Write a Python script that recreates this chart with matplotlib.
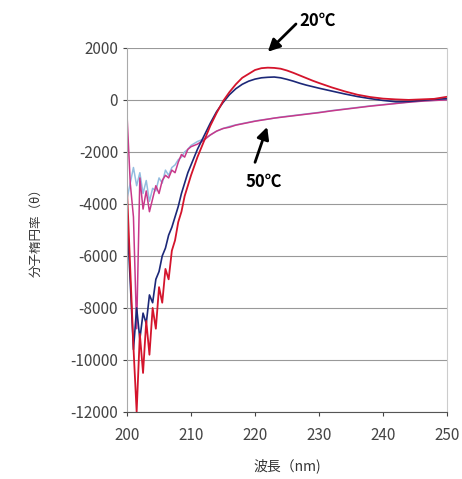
import matplotlib
matplotlib.use('Agg')
import matplotlib.pyplot as plt

plt.rcParams['font.family'] = ['Noto Sans CJK JP', 'DejaVu Sans']

# --- DATA ---
wl = [200, 200.5, 201, 201.5, 202, 202.5, 203, 203.5, 204, 204.5,
      205, 205.5, 206, 206.5, 207, 207.5, 208, 208.5, 209, 209.5, 210,
      211, 212, 213, 214, 215, 216, 217, 218, 219, 220,
      221, 222, 223, 224, 225, 226, 227, 228, 229, 230,
      232, 234, 236, 238, 240, 242, 244, 246, 248, 250]

red_20 = [-3500, -6500, -9500, -12000, -9000, -10500, -8500, -9800, -8000, -8800,
          -7200, -7800, -6500, -6900, -5800, -5400, -4700, -4300, -3700, -3300, -2900,
          -2200, -1600, -1000, -500, -50, 300, 600, 850, 1000, 1150,
          1220, 1240, 1230, 1200, 1130, 1040, 940, 840, 740, 650,
          480, 330, 200, 110, 50, 20, 0, 20, 40, 120]

navy_20 = [-4500, -7000, -9600, -8000, -9200, -8200, -8600, -7500, -7800, -6900,
           -6600, -6000, -5700, -5200, -4900, -4500, -4100, -3600, -3200, -2800, -2500,
           -1900, -1400, -900, -450, -100, 200, 430, 600, 720, 800,
           850, 870, 880, 850, 790, 720, 640, 570, 510, 450,
           340, 230, 130, 50, -20, -70, -60, -20, 20, 50]

magenta_50 = [-600, -3200, -4500, -8800, -3000, -4200, -3500, -4300, -3800, -3300,
              -3600, -3100, -2900, -3000, -2700, -2800, -2400, -2100, -2200, -1900, -1800,
              -1700, -1550, -1350, -1200, -1100, -1050, -970, -920, -870, -820,
              -780, -740, -700, -670, -640, -610, -580, -550, -520, -490,
              -420, -360, -300, -240, -190, -140, -90, -50, -20, 0]

blue_50 = [-3800, -3200, -2600, -3300, -2800, -3600, -3100, -3900, -3400, -3500,
           -3000, -3200, -2700, -2900, -2600, -2500, -2300, -2200, -2000, -1900, -1750,
           -1600, -1500, -1350, -1200, -1100, -1020, -960, -910, -860, -810,
           -770, -740, -700, -660, -630, -600, -570, -540, -510, -480,
           -410, -350, -290, -230, -180, -130, -80, -40, -20, 0]

xticks = [200, 210, 220, 230, 240, 250]
yticks = [2000, 0, -2000, -4000, -6000, -8000, -10000, -12000]

# --- PLOT ---
fig = plt.figure(figsize=(4.62, 4.79), dpi=100)
ax = fig.add_axes([0.275, 0.14, 0.6925, 0.76])

ax.plot(wl, blue_50, color='#93bde0', lw=1.1)
ax.plot(wl, magenta_50, color='#c8388a', lw=1.1)
ax.plot(wl, navy_20, color='#1c2878', lw=1.2)
ax.plot(wl, red_20, color='#d4142c', lw=1.3)

ax.set_xlim(200, 250)
ax.set_ylim(-12000, 2000)
ax.set_xticks(xticks)
ax.set_yticks(yticks)
ax.set_yticklabels([str(v) for v in yticks])
ax.tick_params(labelsize=11, colors='#444444', length=3)
ax.tick_params(axis='x', pad=8)
ax.grid(axis='y', color='#999999', lw=0.8)
ax.spines['top'].set_visible(False)
ax.spines['right'].set_color('#cccccc')
ax.spines['left'].set_color('#aaaaaa')
ax.spines['bottom'].set_color('#555555')

ax.set_xlabel('波長（nm)', fontsize=10, color='#333333', labelpad=10)
ax.set_ylabel('分子楕円率（θ）', fontsize=9, color='#333333', labelpad=20)

# --- ANNOTATIONS ---
arrow = dict(arrowstyle='-|>', color='black', lw=2.0, mutation_scale=18,
             shrinkA=0, shrinkB=0)
ax.annotate('', xy=(222.0, 1850), xytext=(226.4, 2920), arrowprops=arrow,
            annotation_clip=False)
ax.text(229.8, 3050, '20℃', fontsize=12, fontweight='bold',
        ha='center', va='center', clip_on=False)
ax.annotate('', xy=(221.9, -1040), xytext=(220.0, -2400), arrowprops=arrow)
ax.text(221.4, -3150, '50℃', fontsize=12, fontweight='bold',
        ha='center', va='center')

plt.savefig('out.png', dpi=100)
